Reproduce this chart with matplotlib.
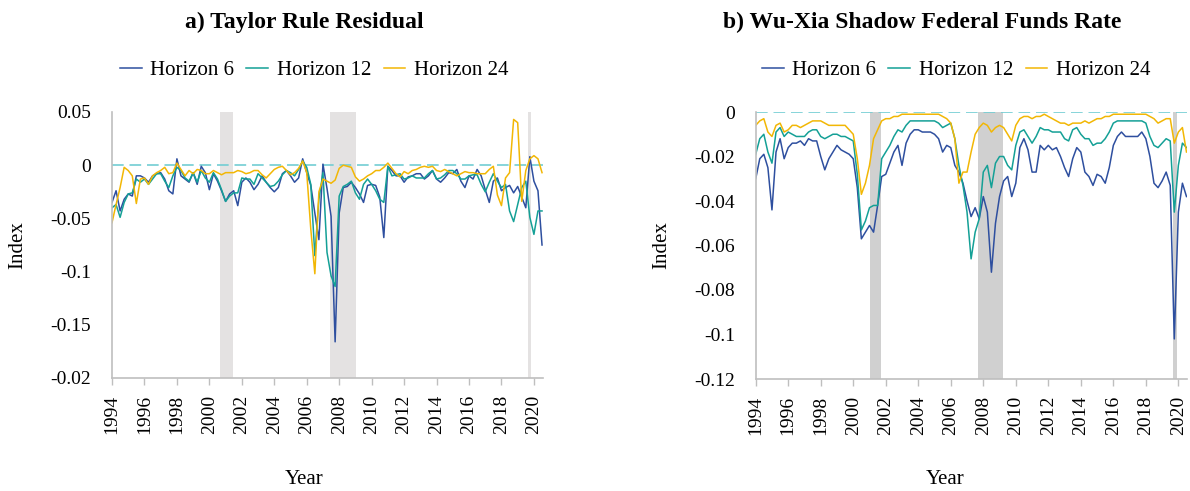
import numpy as np
import pandas as pd
import matplotlib
matplotlib.use('Agg')
import matplotlib.pyplot as plt

plt.rcParams['font.family'] = ['Liberation Serif', 'DejaVu Serif']

# quarterly observations, 1994Q1 - 2020Q3
quarters = pd.date_range('1994-01-01', periods=107, freq='QS')
years = quarters.year + (quarters.month - 1) / 12

# a) Taylor rule residual, one row per year
tr_h6 = [
    -0.035, -0.024, -0.043, -0.032,
    -0.027, -0.029, -0.010, -0.010,
    -0.012, -0.016, -0.010, -0.008,
    -0.007, -0.013, -0.024, -0.027,
    0.006, -0.010, -0.013, -0.016,
    -0.007, -0.018, -0.001, -0.007,
    -0.023, -0.008, -0.015, -0.024,
    -0.034, -0.027, -0.024, -0.038,
    -0.016, -0.012, -0.016, -0.023,
    -0.018, -0.010, -0.016, -0.021,
    -0.025, -0.021, -0.008, -0.005,
    -0.010, -0.016, -0.012, 0.006,
    -0.007, -0.019, -0.045, -0.070,
    0.001, -0.022, -0.048, -0.166,
    -0.045, -0.021, -0.020, -0.016,
    -0.021, -0.027, -0.035, -0.019,
    -0.018, -0.019, -0.030, -0.068,
    -0.001, -0.005, -0.010, -0.010,
    -0.016, -0.011, -0.010, -0.008,
    -0.008, -0.013, -0.010, -0.005,
    -0.013, -0.016, -0.012, -0.007,
    -0.008, -0.004, -0.015, -0.021,
    -0.010, -0.013, -0.004, -0.010,
    -0.023, -0.035, -0.015, -0.012,
    -0.024, -0.021, -0.019, -0.026,
    -0.020, -0.030, -0.040, 0.008,
    -0.015, -0.024, -0.075,
]
tr_h12 = [
    -0.040, -0.037, -0.049, -0.035,
    -0.027, -0.026, -0.013, -0.016,
    -0.013, -0.018, -0.013, -0.008,
    -0.008, -0.015, -0.021, -0.010,
    -0.002, -0.005, -0.012, -0.015,
    -0.007, -0.016, -0.005, -0.012,
    -0.016, -0.007, -0.013, -0.023,
    -0.034, -0.029, -0.026, -0.026,
    -0.012, -0.013, -0.013, -0.018,
    -0.008, -0.012, -0.016, -0.020,
    -0.019, -0.015, -0.009, -0.005,
    -0.007, -0.010, -0.004, 0.004,
    -0.002, -0.018, -0.085, -0.032,
    -0.007, -0.082, -0.104, -0.114,
    -0.029, -0.020, -0.018, -0.015,
    -0.026, -0.032, -0.018, -0.013,
    -0.018, -0.024, -0.032, -0.035,
    -0.001, -0.010, -0.009, -0.008,
    -0.013, -0.012, -0.010, -0.012,
    -0.012, -0.012, -0.008, -0.005,
    -0.013, -0.012, -0.009, -0.005,
    -0.005, -0.008, -0.013, -0.013,
    -0.010, -0.009, -0.009, -0.018,
    -0.025, -0.016, -0.008, -0.015,
    -0.021, -0.018, -0.043, -0.053,
    -0.037, -0.021, -0.015, -0.049,
    -0.065, -0.043, -0.043,
]
tr_h24 = [
    -0.054, -0.037, -0.021, -0.002,
    -0.005, -0.010, -0.036, -0.013,
    -0.012, -0.018, -0.010, -0.007,
    -0.005, -0.002, -0.008, -0.007,
    0.002, -0.004, -0.010, -0.005,
    -0.008, -0.004, -0.005, -0.008,
    -0.008, -0.005, -0.007, -0.009,
    -0.007, -0.007, -0.007, -0.005,
    -0.006, -0.008, -0.007, -0.005,
    -0.005, -0.009, -0.012, -0.008,
    -0.004, -0.002, -0.001, -0.005,
    -0.009, -0.007, -0.003, 0.004,
    -0.007, -0.060, -0.102, -0.025,
    -0.013, -0.015, -0.017, -0.014,
    -0.003, 0.000, -0.001, -0.002,
    -0.011, -0.015, -0.013, -0.010,
    -0.008, -0.005, -0.005, -0.002,
    0.002, -0.003, -0.008, -0.011,
    -0.006, -0.008, -0.005, -0.004,
    -0.002, -0.001, -0.002, -0.001,
    -0.005, -0.006, -0.004, -0.006,
    -0.008, -0.010, -0.008, -0.006,
    -0.007, -0.007, -0.008, -0.008,
    -0.008, -0.004, -0.001, -0.028,
    -0.038, -0.012, -0.007, 0.043,
    0.040, -0.034, -0.005, 0.006,
    0.009, 0.006, -0.007,
]

# b) Wu-Xia shadow federal funds rate
wx_h6 = [
    -0.030, -0.021, -0.019, -0.025,
    -0.044, -0.018, -0.012, -0.021,
    -0.016, -0.014, -0.014, -0.013,
    -0.015, -0.012, -0.013, -0.013,
    -0.020, -0.026, -0.021, -0.018,
    -0.015, -0.017, -0.018, -0.019,
    -0.021, -0.034, -0.057, -0.054,
    -0.051, -0.054, -0.042, -0.029,
    -0.028, -0.023, -0.018, -0.015,
    -0.024, -0.014, -0.010, -0.008,
    -0.008, -0.009, -0.009, -0.009,
    -0.010, -0.012, -0.018, -0.015,
    -0.016, -0.024, -0.027, -0.032,
    -0.040, -0.047, -0.043, -0.048,
    -0.038, -0.045, -0.072, -0.050,
    -0.038, -0.031, -0.029, -0.038,
    -0.032, -0.016, -0.012, -0.017,
    -0.027, -0.027, -0.015, -0.017,
    -0.015, -0.017, -0.016, -0.020,
    -0.025, -0.029, -0.021, -0.016,
    -0.018, -0.027, -0.029, -0.033,
    -0.028, -0.029, -0.032, -0.025,
    -0.015, -0.011, -0.009, -0.011,
    -0.011, -0.011, -0.011, -0.009,
    -0.012, -0.020, -0.032, -0.034,
    -0.031, -0.027, -0.033, -0.102,
    -0.045, -0.032, -0.038,
]
wx_h12 = [
    -0.019, -0.012, -0.010, -0.018,
    -0.023, -0.009, -0.007, -0.011,
    -0.009, -0.010, -0.011, -0.011,
    -0.011, -0.009, -0.008, -0.008,
    -0.011, -0.012, -0.011, -0.010,
    -0.010, -0.011, -0.011, -0.012,
    -0.013, -0.028, -0.053, -0.049,
    -0.043, -0.042, -0.042, -0.021,
    -0.018, -0.015, -0.011, -0.008,
    -0.009, -0.006, -0.004, -0.004,
    -0.004, -0.004, -0.004, -0.004,
    -0.004, -0.005, -0.007, -0.006,
    -0.005, -0.012, -0.024, -0.033,
    -0.045, -0.066, -0.054, -0.048,
    -0.027, -0.024, -0.034, -0.023,
    -0.020, -0.020, -0.024, -0.026,
    -0.015, -0.009, -0.008, -0.011,
    -0.014, -0.011, -0.007, -0.008,
    -0.008, -0.009, -0.009, -0.009,
    -0.012, -0.013, -0.008, -0.007,
    -0.010, -0.012, -0.012, -0.015,
    -0.014, -0.014, -0.012, -0.009,
    -0.005, -0.004, -0.004, -0.004,
    -0.004, -0.004, -0.004, -0.004,
    -0.005, -0.011, -0.015, -0.016,
    -0.014, -0.012, -0.013, -0.045,
    -0.024, -0.014, -0.016,
]
wx_h24 = [
    -0.006, -0.004, -0.003, -0.009,
    -0.011, -0.006, -0.005, -0.009,
    -0.008, -0.006, -0.006, -0.007,
    -0.006, -0.005, -0.004, -0.004,
    -0.004, -0.005, -0.006, -0.006,
    -0.006, -0.006, -0.006, -0.008,
    -0.010, -0.021, -0.037, -0.032,
    -0.024, -0.012, -0.008, -0.004,
    -0.003, -0.003, -0.002, -0.002,
    -0.001, -0.001, -0.001, -0.001,
    -0.001, -0.001, -0.001, -0.001,
    -0.001, -0.001, -0.002, -0.003,
    -0.005, -0.012, -0.032, -0.027,
    -0.027, -0.018, -0.010, -0.007,
    -0.005, -0.006, -0.009, -0.007,
    -0.006, -0.007, -0.010, -0.013,
    -0.006, -0.003, -0.002, -0.002,
    -0.003, -0.002, -0.002, -0.001,
    -0.002, -0.003, -0.004, -0.005,
    -0.005, -0.006, -0.005, -0.005,
    -0.005, -0.004, -0.005, -0.004,
    -0.003, -0.003, -0.002, -0.002,
    -0.001, -0.001, -0.001, -0.001,
    -0.001, -0.001, -0.001, -0.001,
    -0.001, -0.002, -0.003, -0.005,
    -0.004, -0.003, -0.003, -0.014,
    -0.009, -0.007, -0.018,
]

labels = ['Horizon 6', 'Horizon 12', 'Horizon 24']
colors = ['#2e4f9f', '#14a096', '#f2b705']

# recession bands as drawn on each panel
bands_a = [(2000.65, 2001.43), (2007.45, 2009.01), (2019.63, 2019.84)]
bands_b = [(2001.06, 2001.71), (2007.70, 2009.22), (2019.70, 2019.93)]

yticks_a = [-0.2, -0.15, -0.1, -0.05, 0, 0.05]
ylabels_a = ['-0.02', '-0.15', '-0.1', '-0.05', '0', '0.05']
yticks_b = [-0.12, -0.1, -0.08, -0.06, -0.04, -0.02, 0]
ylabels_b = ['-0.12', '-0.1', '-0.08', '-0.06', '-0.04', '-0.02', '0']
xticks = list(range(1994, 2021, 2))

fig = plt.figure(figsize=(11.9, 4.91), dpi=100)
ax1 = fig.add_axes([112 / 1190, 113 / 491, 431 / 1190, 266 / 491])
ax2 = fig.add_axes([755.7 / 1190, 112 / 491, 431.6 / 1190, 267 / 491])


def panel(ax, series, bands, shade, yticks, ylabels, xmax):
    for a, b in bands:
        ax.axvspan(a, b, color=shade, lw=0, zorder=0)
    ax.axhline(0, color='#72cdd3', lw=1.2, ls=(0, (7, 3.5)), zorder=1)
    for s, c, lab in zip(series, colors, labels):
        ax.plot(years, s, color=c, lw=1.1, label=lab, zorder=2)
    ax.set_xlim(1994, xmax)
    ax.set_ylim(yticks[0], yticks[-1])
    ax.set_yticks(yticks)
    ax.set_yticklabels(ylabels)
    ax.set_xticks(xticks)
    ax.set_xticklabels([str(x) for x in xticks], rotation=90)
    for side in ['top', 'right']:
        ax.spines[side].set_visible(False)
    for side in ['left', 'bottom']:
        ax.spines[side].set_color('#bfbfbf')
        ax.spines[side].set_linewidth(1.2)
    ax.tick_params(axis='y', length=0, pad=15, labelsize=14)
    ax.tick_params(axis='x', length=5, width=1, color='#bfbfbf', pad=7,
                   labelsize=14)


panel(ax1, [tr_h6, tr_h12, tr_h24], bands_a, '#e4e2e2', yticks_a, ylabels_a, 2020.56)
panel(ax2, [wx_h6, wx_h12, wx_h24], bands_b, '#d0d0d0', yticks_b, ylabels_b, 2020.55)

fig.text(304 / 1190, 1 - 22 / 491, 'a) Taylor Rule Residual', ha='center', va='center',
         fontsize=17, fontweight='bold')
fig.text(922 / 1190, 1 - 22 / 491, 'b) Wu-Xia Shadow Federal Funds Rate', ha='center',
         va='center', fontsize=17, fontweight='bold')

for ax, cx in [(ax1, 314), (ax2, 956)]:
    ax.legend(loc='center', bbox_to_anchor=(cx / 1190, 1 - 70 / 491),
              bbox_transform=fig.transFigure, ncol=3, frameon=False, fontsize=15,
              handlelength=1.05, handletextpad=0.4, columnspacing=0.6)

fig.text(18 / 1190, 1 - 245 / 491, 'Index', rotation=90, ha='center', va='center', fontsize=15)
fig.text(662 / 1190, 1 - 245 / 491, 'Index', rotation=90, ha='center', va='center', fontsize=15)
fig.text(304 / 1190, 1 - 480 / 491, 'Year', ha='center', va='center', fontsize=15)
fig.text(945 / 1190, 1 - 480 / 491, 'Year', ha='center', va='center', fontsize=15)

fig.savefig('out.png', dpi=100)
